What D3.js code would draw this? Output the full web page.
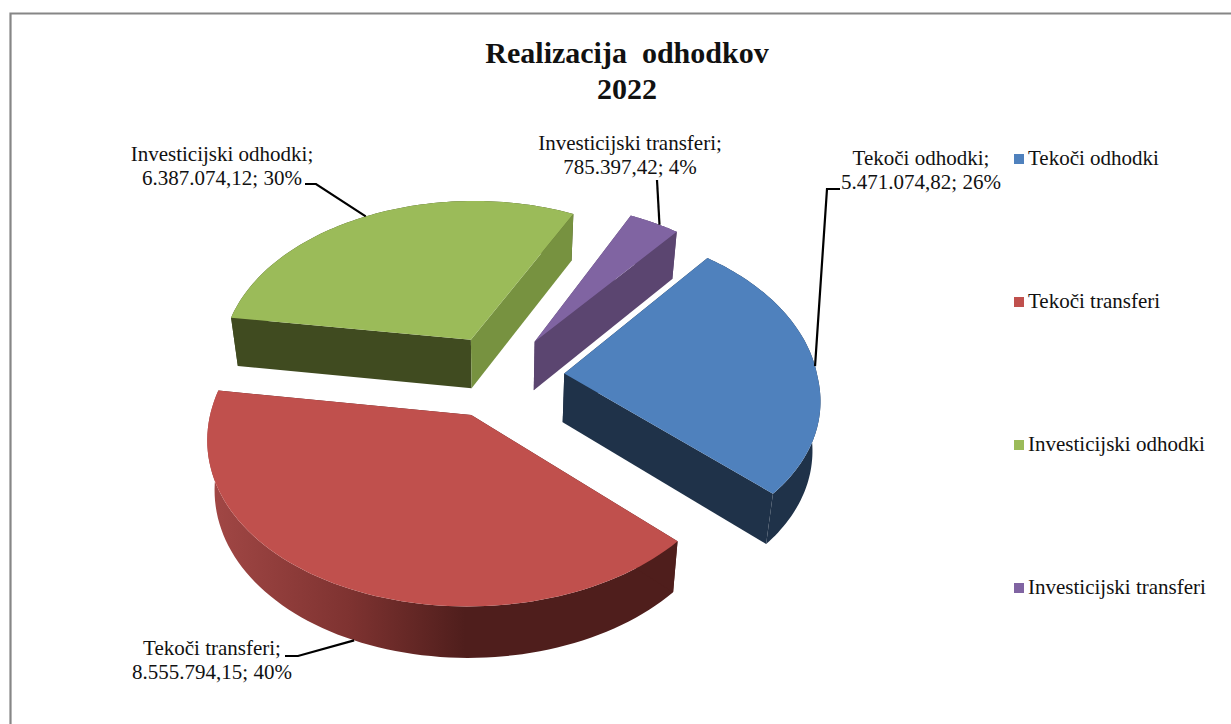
<!DOCTYPE html>
<html>
<head>
<meta charset="utf-8">
<script src="https://d3js.org/d3.v7.min.js"></script>
<style>
  html, body { margin: 0; padding: 0; background: #fff; overflow: hidden; }
  text { font-family: "Liberation Serif", serif; fill: #111; }
</style>
</head>
<body>
<div id="vis"></div>
<script>
// chart data
const categories = ["Tekoči odhodki", "Tekoči transferi", "Investicijski odhodki", "Investicijski transferi"];
const values = [5471074.82, 8555794.15, 6387074.12, 785397.42];
const percents = [26, 40, 30, 4];
const titleLines = ["Realizacija  odhodkov", "2022"];

const topColors = ["#4f81bd", "#c0504d", "#9bbb59", "#8064a2"];
const startCutColors = ["#1f3249", "#4f1e1c", "#779240", "#5b4570"];
const endCutColors = ["#1f3249", "#4f1e1c", "#404b20", "#5b4570"];
const wallColors = ["#1f3249", "url(#redWall)", "#404b20", "#5b4570"];

const width = 1231, height = 724;
const startDeg = 40;
const explode = 0.255;

// pseudo 3D view of the pie plane: v is depth, positive towards the viewer
const view = { x0: 500, y0: 376, rx: 253, ry: 165, pFront: 0.14, pBack: 0.11, py: 0.11, depth: 49, shrink: 0.025 };

function project(u, v, z) {
  const s = 1 + (v > 0 ? view.pFront : view.pBack) * v;
  const h = view.depth + 2 * v;
  return [
    view.x0 + view.rx * u * s * (1 - view.shrink * z),
    view.y0 + view.ry * v * (1 + view.py * v) + h * z
  ];
}

const svg = d3.select("#vis").append("svg")
  .attr("width", width)
  .attr("height", height);

const grad = svg.append("defs").append("linearGradient")
  .attr("id", "redWall")
  .attr("gradientUnits", "userSpaceOnUse")
  .attr("x1", 206).attr("x2", 677).attr("y1", 0).attr("y2", 0);
[[0, "#a34846"], [0.3, "#7f3331"], [0.55, "#4f1e1c"], [1, "#4f1e1c"]].forEach(function (d) {
  grad.append("stop").attr("offset", d[0]).attr("stop-color", d[1]);
});

// frame
svg.append("path")
  .attr("d", "M10.5," + height + "V13.5H" + width)
  .attr("fill", "none")
  .attr("stroke", "#868686")
  .attr("stroke-width", 2.2);

svg.append("g").selectAll("text")
  .data(titleLines)
  .join("text")
  .attr("x", 627)
  .attr("y", function (d, i) { return 63 + i * 36; })
  .attr("text-anchor", "middle")
  .style("white-space", "pre")
  .attr("xml:space", "preserve")
  .attr("font-size", 30)
  .attr("font-weight", "bold")
  .text(function (d) { return d; });

const pie = d3.pie().sort(null)
  .startAngle(startDeg * Math.PI / 180)
  .endAngle((startDeg + 360) * Math.PI / 180);
const slices = pie(values);

const line = d3.line();

// offset of an exploded slice and points on its rim
function offset(d) {
  const mid = (d.startAngle + d.endAngle) / 2;
  return [Math.sin(mid) * explode, -Math.cos(mid) * explode];
}
function rim(d, a, z) {
  const o = offset(d);
  return project(o[0] + Math.sin(a), o[1] - Math.cos(a), z);
}
function apex(d, z) {
  const o = offset(d);
  return project(o[0], o[1], z);
}
function angles(d) {
  const n = 80;
  return d3.range(n + 1).map(function (i) {
    return d.startAngle + (d.endAngle - d.startAngle) * i / n;
  });
}

// back slices first, so the front ones lie over them
const order = [2, 3, 0, 1];
const pieG = svg.append("g");
order.forEach(function (i) {
  const d = slices[i];
  const a = angles(d);
  const g = pieG.append("g");

  // outer wall
  g.append("path")
    .attr("d", line(a.map(function (t) { return rim(d, t, 0); })
      .concat(a.slice().reverse().map(function (t) { return rim(d, t, 1); }))) + "Z")
    .attr("fill", wallColors[i]);
  // cut faces
  g.append("path")
    .attr("d", line([apex(d, 0), rim(d, d.startAngle, 0), rim(d, d.startAngle, 1), apex(d, 1)]) + "Z")
    .attr("fill", endCutColors[i]);
  g.append("path")
    .attr("d", line([apex(d, 0), rim(d, d.endAngle, 0), rim(d, d.endAngle, 1), apex(d, 1)]) + "Z")
    .attr("fill", startCutColors[i]);
  // top
  g.append("path")
    .attr("d", line([apex(d, 0)].concat(a.map(function (t) { return rim(d, t, 0); }))) + "Z")
    .attr("fill", topColors[i]);
});

// data labels
const fmt = d3.formatLocale({ decimal: ",", thousands: ".", grouping: [3], currency: ["", ""] }).format(",.2f");
const labelX = [921, 212, 222, 630];
const labelY = [165, 655, 161, 150];
const elbows = [[[827, 189], [840, 189]], [[298, 656], [285, 656]], [[316, 184], [305, 184]], [[657, 180]]];
const leaderDepth = [0, 1, 0, 0];
const leaderShift = [1, -2, -1.5, 1.5];

const leaders = svg.append("g");
slices.forEach(function (d, i) {
  const mid = (d.startAngle + d.endAngle) / 2 + leaderShift[i] * Math.PI / 180;
  leaders.append("path")
    .attr("d", line([rim(d, mid, leaderDepth[i])].concat(elbows[i])))
    .attr("fill", "none")
    .attr("stroke", "#000")
    .attr("stroke-width", 2.2);
  const t = svg.append("text")
    .attr("x", labelX[i])
    .attr("y", labelY[i])
    .attr("text-anchor", "middle")
    .attr("font-size", 21);
  t.append("tspan").attr("x", labelX[i]).text(categories[i] + ";");
  t.append("tspan").attr("x", labelX[i]).attr("dy", 24)
    .text(fmt(values[i]) + "; " + percents[i] + "%");
});

// legend
const legendY = d3.scalePoint().domain(categories).range([159, 588]);
const legend = svg.append("g").selectAll("g")
  .data(categories)
  .join("g")
  .attr("transform", function (d) { return "translate(1014," + legendY(d) + ")"; });
legend.append("rect")
  .attr("y", -5).attr("width", 10).attr("height", 10)
  .attr("fill", function (d, i) { return topColors[i]; });
legend.append("text")
  .attr("x", 14).attr("y", 6)
  .attr("font-size", 21)
  .text(function (d) { return d; });
</script>
</body>
</html>
